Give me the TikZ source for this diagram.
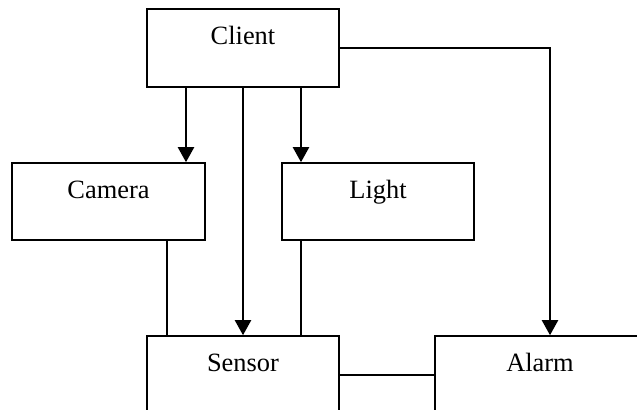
\documentclass[tikz,border=0pt]{standalone}
\usepackage{fontspec}
\setmainfont{Liberation Serif}
\usetikzlibrary{arrows.meta, calc}

\begin{document}
\begin{tikzpicture}[x=0.5pt, y=-0.5pt,
    box/.style={draw, line width=0.8pt, minimum width=96pt, minimum height=39pt, inner sep=0pt},
    lbl/.style={anchor=base, font=\fontsize{13.2}{16}\selectfont},
    arr/.style={-{Triangle[length=7.5pt,width=8pt]}, line width=1.05pt},
    link/.style={line width=0.6pt}]
    \clip (0,0) rectangle (637,409);

    % Boxes
    \node[box] (client) at (243,48) {};
    \node[box, minimum width=96.5pt, minimum height=38.5pt] (camera) at (108.5,201.5) {};
    \node[box, minimum height=38.5pt] (light) at (378,201.5) {};
    \node[box] (sensor) at (243,375) {};
    \node[box, minimum width=110pt] (alarm) at (545,375) {};

    % Labels, near the top of each box
    \foreach \n/\t in {client/Client, camera/Camera, light/Light, sensor/Sensor}
        \node[lbl] (\n-txt) at ([yshift=-18pt]\n.north) {\t};
    \node[lbl] (alarm-txt) at ([xshift=-2.5pt,yshift=-18pt]alarm.north) {Alarm};

    % Client to the others
    \coordinate (c1) at ($(client.south)+(-57,0)$);
    \coordinate (c2) at ($(client.south)+(58,0)$);
    \draw[arr] (c1) -- (c1 |- camera.north);
    \draw[arr] (client.south) -- (sensor.north);
    \draw[arr] (c2) -- (c2 |- light.north);
    \draw[arr] (client.east) -| ($(alarm.north)+(5,0)$);

    % Camera and Light down to Sensor
    \coordinate (s1) at ($(camera.south)+(58.5,0)$);
    \coordinate (s2) at ($(light.south)+(-77,0)$);
    \draw[link] (s1) -- (s1 |- sensor.north);
    \draw[link] (s2) -- (s2 |- sensor.north);

    % Sensor to Alarm
    \draw[line width=0.8pt] (sensor.east) -- (alarm.west);
\end{tikzpicture}
\end{document}
